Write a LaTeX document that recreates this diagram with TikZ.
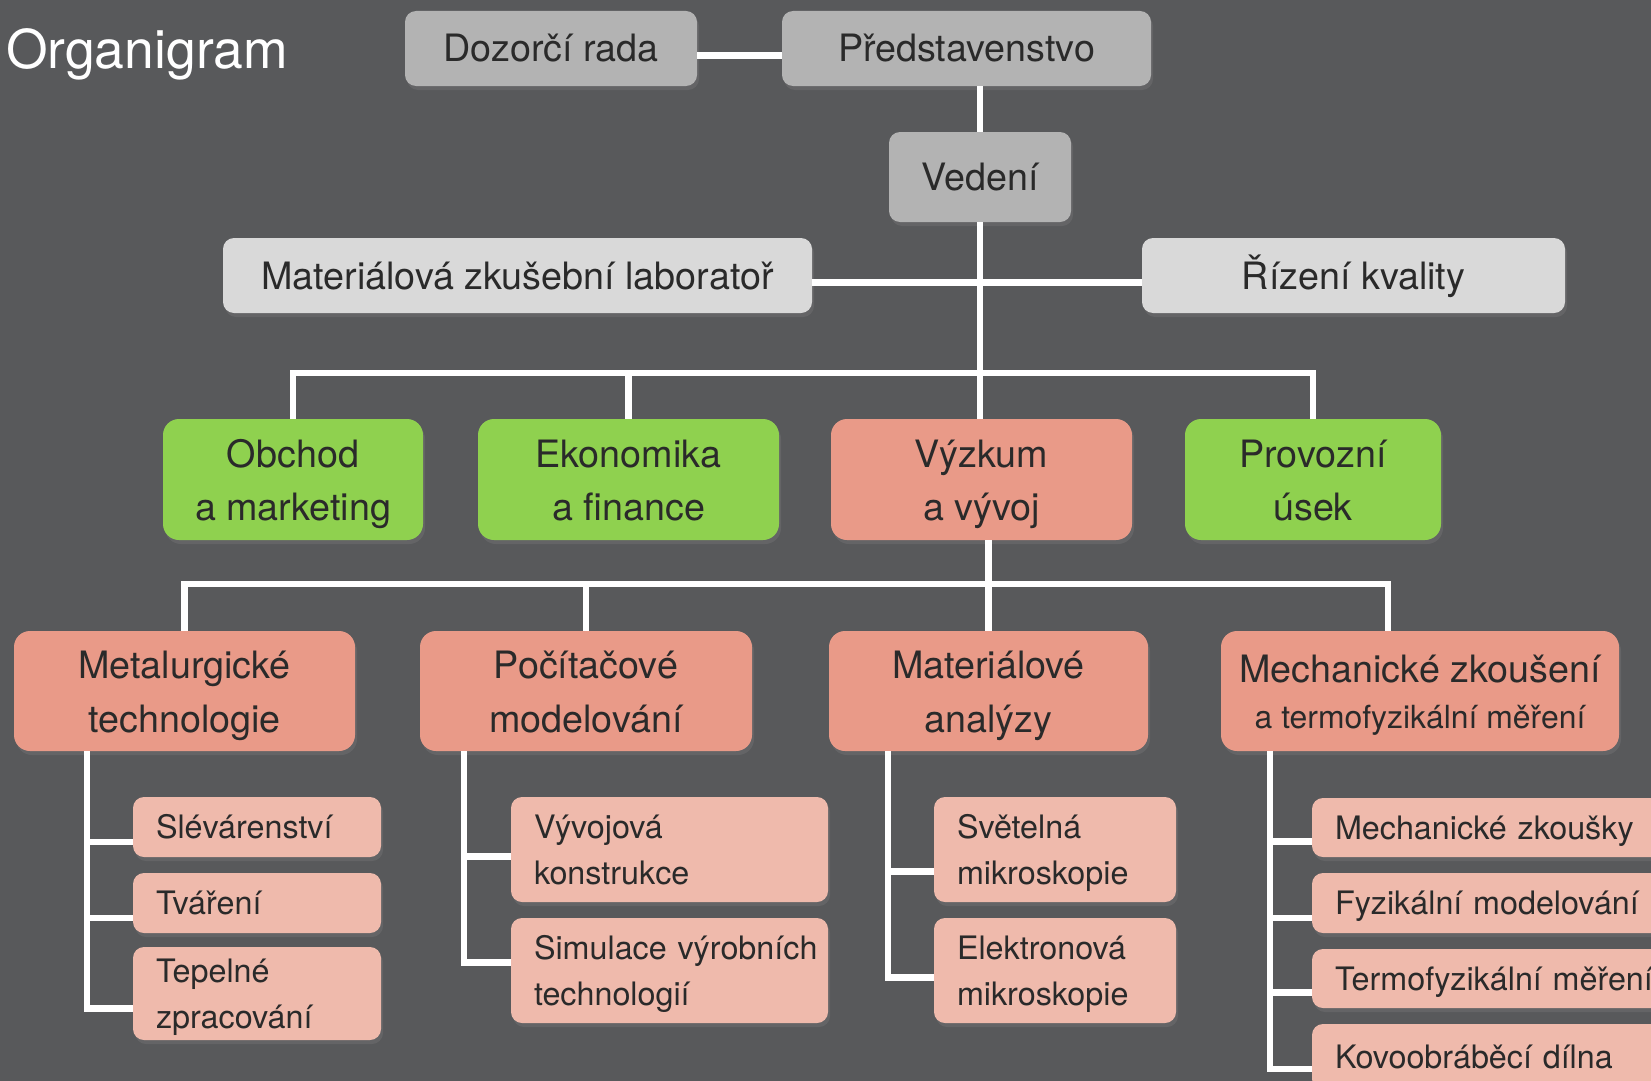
\documentclass[tikz,border=0pt]{standalone}
\usepackage{fontspec}
\setmainfont{TeX Gyre Heros}
\usetikzlibrary{shadows}
\definecolor{bg}{HTML}{58595B}
\definecolor{topgray}{HTML}{B3B3B3}
\definecolor{lightgray}{HTML}{D9D9D9}
\definecolor{grn}{HTML}{8FD14F}
\definecolor{salmon}{HTML}{E99A88}
\definecolor{pinkish}{HTML}{EFBAAC}
\definecolor{txt}{HTML}{2A2A2A}
\newcommand\tstr[1]{\rule{0pt}{#1}}
\newcommand\bstr[1]{\rule[-#1]{0pt}{#1}}
\newcommand\twol[2]{\tstr{40pt}#1\\#2\bstr{12pt}}
\newcommand\twoleaf[2]{\tstr{35pt}#1\\#2\bstr{12pt}}
\tikzset{
  shad/.style={drop shadow={opacity=0.3, shadow xshift=2pt, shadow yshift=-4pt}},
  topbox/.style={shad, fill=topgray, text=txt, rounded corners=11pt, inner sep=0pt,
    font=\fontsize{37.7}{44}\selectfont, text height=27pt, text depth=0pt},
  labbox/.style={topbox, fill=lightgray},
  lvtwo/.style={shad, text=txt, rounded corners=16pt, inner sep=0pt, align=center,
    font=\fontsize{37.7}{53}\selectfont},
  grnbox/.style={lvtwo, fill=grn},
  salbox/.style={lvtwo, fill=salmon},
  leaf/.style={shad, fill=pinkish, text=txt, rounded corners=11pt, inner xsep=23pt, inner ysep=0pt,
    align=left, font=\fontsize{32.3}{46}\selectfont},
  leafone/.style={leaf, text height=23pt, text depth=0pt},
  conn/.style={draw=white, line width=6.5pt},
}
\begin{document}
\begin{tikzpicture}[x=1pt, y=-1pt]
\useasboundingbox (0,0) rectangle (1651,1081);
\fill[bg] (0,0) rectangle (1651,1081);
\clip (0,0) rectangle (1651,1081);

% title
\node[anchor=base west, text=white, inner sep=0pt, font=\fontsize{53.5}{60}\selectfont] (title) at (6,68) {Organigram};

% top level
\node[topbox, minimum width=292pt, minimum height=75pt] (doz) at (551,48.5) {Dozorčí rada};
\node[topbox, minimum width=369pt, minimum height=75pt] (pred) at (966.5,48.5) {Představenstvo};
\node[topbox, minimum width=182pt, minimum height=90pt] (ved) at (980,177) {Vedení};
\node[labbox, minimum width=589pt, minimum height=75pt] (mzl) at (517.5,275.5) {Materiálová zkušební laboratoř};
\node[labbox, minimum width=423pt, minimum height=75pt] (rk) at (1353.5,275.5) {Řízení kvality};

% level 2
\node[grnbox, minimum width=260pt, minimum height=121pt] (obchod) at (293,479.5) {\twol{Obchod}{a marketing}};
\node[grnbox, minimum width=301pt, minimum height=121pt] (ekon) at (628.5,479.5) {\twol{Ekonomika}{a finance}};
\node[salbox, minimum width=301pt, minimum height=121pt] (vyzkum) at (981.5,479.5) {\twol{Výzkum}{a vývoj}};
\node[grnbox, minimum width=256pt, minimum height=121pt] (provoz) at (1313,479.5) {\twol{Provozní}{úsek}};

% level 3
\node[salbox, minimum width=341pt, minimum height=120pt, font=\fontsize{37.7}{54}\selectfont] (met) at (184.5,691) {\twol{Metalurgické}{technologie}};
\node[salbox, minimum width=332pt, minimum height=120pt, font=\fontsize{37.7}{54}\selectfont] (poc) at (586,691) {\twol{Počítačové}{modelování}};
\node[salbox, minimum width=319pt, minimum height=120pt, font=\fontsize{37.7}{54}\selectfont] (mat) at (988.5,691) {\twol{Materiálové}{analýzy}};
\node[salbox, minimum width=398pt, minimum height=120pt, font=\fontsize{37.7}{46}\selectfont] (mech) at (1420,691)
  {\twol{Mechanické zkoušení}{{\fontsize{31.9}{46}\selectfont a termofyzikální měření}}};

% level 4
\node[leafone, text width=202pt, minimum height=60pt] (slev) at (257,827) {Slévárenství};
\node[leafone, text width=202pt, minimum height=60pt] (tvar) at (257,903) {Tváření};
\node[leaf, text width=202pt, minimum height=91pt] (tep) at (257,993.5) {\twoleaf{Tepelné}{zpracování}};

\node[leaf, text width=271pt, minimum height=105pt] (vyv) at (669.5,849.5) {\twoleaf{Vývojová}{konstrukce}};
\node[leaf, text width=271pt, minimum height=105pt] (sim) at (669.5,970.5) {\twoleaf{\mbox{Simulace výrobních}}{technologií}};

\node[leaf, text width=196pt, minimum height=105pt] (svet) at (1055,849.5) {\twoleaf{Světelná}{mikroskopie}};
\node[leaf, text width=196pt, minimum height=105pt] (elek) at (1055,970.5) {\twoleaf{Elektronová}{mikroskopie}};

\node[leafone, text width=362pt, minimum height=59pt] (mz) at (1516,827.5) {Mechanické zkoušky};
\node[leafone, text width=362pt, minimum height=60pt] (fm) at (1516,903) {Fyzikální modelování};
\node[leafone, text width=362pt, minimum height=59pt] (tm) at (1516,978.5) {Termofyzikální měření};
\node[leafone, text width=362pt, minimum height=66pt] (kd) at (1516,1057) {Kovoobráběcí dílna};

% connectors, top
\draw[conn] ([yshift=-7pt]doz.east) -- ([yshift=-7pt]pred.west);
\draw[conn] (ved.north) -- (ved.north |- pred.south);
\draw[conn] ([yshift=-7pt]mzl.east) -- ([yshift=-7pt]rk.west);
\draw[conn] (ved.south) -- (ved.south |- vyzkum.north);

% level 2 bar
\coordinate (b2) at (0,373);
\draw[conn] (obchod.north) -- (obchod.north |- b2) -- (provoz.north |- b2) -- (provoz.north);
\draw[conn] (ekon.north) -- (ekon.north |- b2);

% level 3 bar
\coordinate (b3) at (0,584);
\coordinate (mechtop) at ([xshift=-32pt]mech.north);
\draw[conn] (vyzkum.south -| mat.north) -- (mat.north);
\draw[conn] (met.north) -- (met.north |- b3) -- (mechtop |- b3) -- (mechtop);
\draw[conn] (poc.north) -- (poc.north |- b3);

% level 4: Metalurgicke
\coordinate (mt) at ([xshift=73pt]met.south west);
\coordinate (slb) at ([yshift=-15pt]slev.west);
\coordinate (tvb) at ([yshift=-15pt]tvar.west);
\coordinate (teb) at ([yshift=-15pt]tep.west);
\draw[conn] (mt) |- (teb);
\draw[conn] (mt |- slb) -- (slb);
\draw[conn] (mt |- tvb) -- (tvb);

% level 4: Pocitacove
\coordinate (pt) at ([xshift=44pt]poc.south west);
\coordinate (vyb) at ([yshift=-7pt]vyv.west);
\coordinate (sib) at ([yshift=8pt]sim.west);
\draw[conn] (pt) |- (sib);
\draw[conn] (pt |- vyb) -- (vyb);

% level 4: Materialove
\coordinate (at) at ([xshift=59pt]mat.south west);
\coordinate (svb) at ([yshift=-22pt]svet.west);
\coordinate (elb) at ([yshift=-7pt]elek.west);
\draw[conn] (at) |- (elb);
\draw[conn] (at |- svb) -- (svb);

% level 4: Mechanicke
\coordinate (ht) at ([xshift=49pt]mech.south west);
\coordinate (mzb) at ([yshift=-14pt]mz.west);
\coordinate (fmb) at ([yshift=-15pt]fm.west);
\coordinate (tmb) at ([yshift=-14pt]tm.west);
\coordinate (kdb) at ([yshift=-12pt]kd.west);
\draw[conn] (ht) |- (kdb);
\draw[conn] (ht |- mzb) -- (mzb);
\draw[conn] (ht |- fmb) -- (fmb);
\draw[conn] (ht |- tmb) -- (tmb);
\end{tikzpicture}
\end{document}
